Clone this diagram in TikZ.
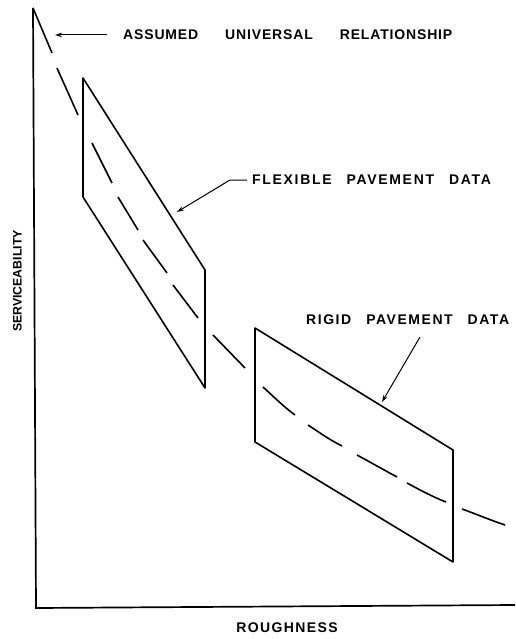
\documentclass[tikz,border=0pt]{standalone}
\usepackage{fontspec}
\usetikzlibrary{arrows.meta}
\newfontfamily\lettering{Liberation Sans}
\begin{document}
\begin{tikzpicture}[x=1pt,y=-1pt,
  every node/.style={inner sep=0pt},
  axis/.style={line width=1.7pt},
  band/.style={line width=1.6pt, line join=round},
  curve/.style={line width=1.6pt},
  leader/.style={line width=1pt, -{Stealth[length=7pt,width=4.5pt]}},
  caption/.style={font=\lettering\bfseries\fontsize{14}{14}\selectfont, anchor=west}]
\useasboundingbox (0,0) rectangle (515,639);
% axes
\coordinate (ytop) at (33,8);
\coordinate (orig) at (36,608);
\coordinate (xend) at (515,605);
\draw [black, axis] (ytop) -- (orig) -- (xend);
\node (xlab) at (287,628) [font=\lettering\bfseries\fontsize{14}{14}\selectfont\addfontfeatures{LetterSpace=10}] {ROUGHNESS};
\node (ylab) at (17.5,281) [rotate=90, font=\lettering\bfseries\fontsize{12.3}{12.3}\selectfont] {SERVICEABILITY};
% flexible pavement band
\coordinate (ftl) at (83,78);
\coordinate (fbl) at (83,197);
\coordinate (ftr) at (205,270);
\coordinate (fbr) at (205,388);
\draw [black, band] (ftl) -- (ftr) -- (fbr) -- (fbl) -- cycle;
% rigid pavement band
\coordinate (rtl) at (255,328);
\coordinate (rbl) at (255,442);
\coordinate (rtr) at (453,450);
\coordinate (rbr) at (453,562);
\draw [black, band] (rtl) -- (rtr) -- (rbr) -- (rbl) -- cycle;
% assumed relationship, one dash at a time
\foreach \xa/\ya/\xb/\yb in {33/8/52/53, 57/68/78/115, 92/143/112/183, 118/197/138/230,
                   143/240/167/273, 173/285/198/318, 213/335/245/368}
  {\draw [black, curve] (\xa,\ya) -- (\xb,\yb);}
\draw [black, curve] (263,387) .. controls (274,397) and (284,407) .. (295,415);
\draw [black, curve] (308,425) .. controls (320,433) and (330,440) .. (342,446);
\draw [black, curve] (357,455) .. controls (370,462) and (384,470) .. (397,477);
\draw [black, curve] (407,483) .. controls (420,490) and (433,497) .. (446,502);
\draw [black, curve] (462,509) .. controls (476,514) and (490,520) .. (505,525);
% labels
\node (assumed) at (123,35) [caption, execute at begin node={\addfontfeatures{LetterSpace=6}\spaceskip=27pt\relax}] {ASSUMED UNIVERSAL RELATIONSHIP};
\node (flexlab) at (252,180) [caption, execute at begin node={\addfontfeatures{LetterSpace=12}\spaceskip=15pt\relax}] {FLEXIBLE PAVEMENT DATA};
\node (rigidlab) at (306,320) [caption, execute at begin node={\addfontfeatures{LetterSpace=11}\spaceskip=15pt\relax}] {RIGID PAVEMENT DATA};
\coordinate (assumedtip) at (55,35);
\coordinate (flextip) at (177,212);
\coordinate (rigidfrom) at (420,337);
\coordinate (rigidtip) at (382,402);
\draw [black, leader] ([xshift=-16pt]assumed.west) -- (assumedtip);
\draw [black, leader] ([xshift=-5pt]flexlab.west) -- ++(-17,0) -- (flextip);
\draw [black, leader] (rigidfrom) -- (rigidtip);
\end{tikzpicture}
\end{document}
